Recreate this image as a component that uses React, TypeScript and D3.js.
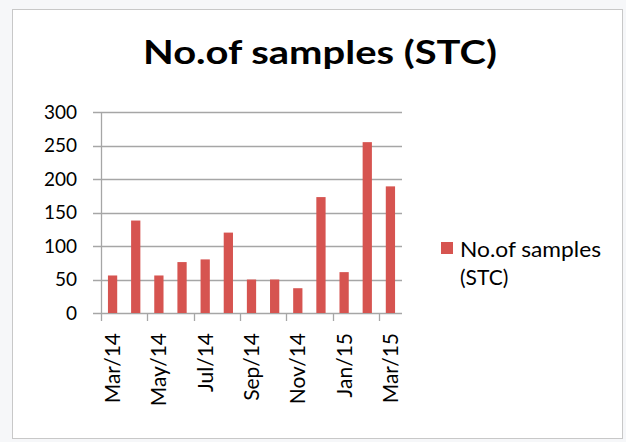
import React from "react";
import * as d3 from "d3";

const categories = ["Mar/14","Apr/14","May/14","Jun/14","Jul/14","Aug/14","Sep/14","Oct/14","Nov/14","Dec/14","Jan/15","Feb/15","Mar/15"];
const values = [56, 138, 56, 76, 80, 120, 50, 50, 37, 173, 61, 255, 189];
const yTicks = [0, 50, 100, 150, 200, 250, 300];
const titleText = "No.of samples (STC)";
const legendLines = ["No.of samples", "(STC)"];

const W = 626, H = 442;
const FONT = "Lato, 'Open Sans', sans-serif";
const BAR = "#D65450";
const GRID = "#A6A6A6";

export default function App() {
  const x = d3.scaleBand<string>().domain(categories).range([101, 402]).paddingInner(0.6).paddingOuter(0.3);
  const y = d3.scaleLinear().domain([0, 300]).range([313, 112]);
  const step = x.step();
  const bw = x.bandwidth();
  const gap = (step - bw) / 2;
  return (
    <svg width={W} height={H} style={{ position: "absolute", left: 0, top: 0 }} fontFamily={FONT}>
      <rect x={0} y={0} width={W} height={H} fill="#F6F7F9" />
      <rect x={12.5} y={9.5} width={610} height={429} fill="#FFFFFF" stroke="#C8C8C8" strokeWidth={1} />
      <text x={320} y={64} textAnchor="middle" fontSize={32} fontWeight={700} fill="#000" textLength={354} lengthAdjust="spacingAndGlyphs">{titleText}</text>
      {yTicks.map((t) => (
        <g key={t}>
          <line x1={93} x2={402} y1={Math.round(y(t)) + 0.5} y2={Math.round(y(t)) + 0.5} stroke={GRID} strokeWidth={1.3} />
          <text x={77} y={y(t)} dy="0.36em" textAnchor="end" fontSize={19} fill="#000">{t}</text>
        </g>
      ))}
      <line x1={101.5} x2={101.5} y1={112} y2={313} stroke={GRID} strokeWidth={1.3} />
      {categories.map((c, i) => (
        <rect key={c} x={x(c)} y={y(values[i])} width={bw} height={y(0) - y(values[i])} fill={BAR} />
      ))}
      {categories.map((c, i) =>
        i % 2 === 0 ? (
          <g key={"t" + c}>
            <line x1={Math.round(x(c)! - gap) + 0.5} x2={Math.round(x(c)! - gap) + 0.5} y1={313} y2={321} stroke={GRID} strokeWidth={1.3} />
            <text transform={`translate(${x(c)! + bw / 2},333) rotate(-90)`} textAnchor="end" dy="0.36em" fontSize={21} fill="#000">{c}</text>
          </g>
        ) : null
      )}
      <rect x={441} y={242} width={12} height={12} fill={BAR} />
      <text x={460} y={257} fontSize={21} fill="#000" textLength={141} lengthAdjust="spacingAndGlyphs">{legendLines[0]}</text>
      <text x={460} y={285} fontSize={21} fill="#000">{legendLines[1]}</text>
    </svg>
  );
}
